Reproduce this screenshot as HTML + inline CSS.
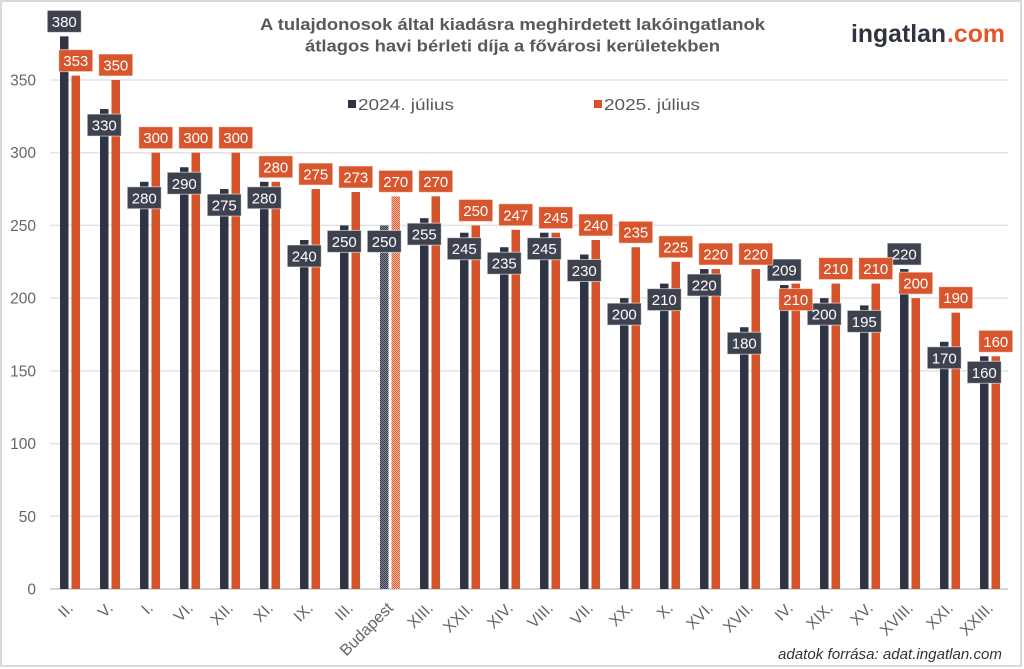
<!DOCTYPE html>
<html>
<head>
<meta charset="utf-8">
<style>
html,body{margin:0;padding:0;background:#fff;}
svg{display:block;}
text{font-family:"Liberation Sans",Arial,sans-serif;}
.yl{font-size:15.5px;fill:#666;text-anchor:end;}
.xl{font-size:16px;fill:#666;text-anchor:end;}
.lb{font-size:15px;fill:#fff;text-anchor:middle;}
.db{fill:#2e3443;}
.ob{fill:#d5532b;}
.dl{fill:#3d424e;stroke:rgba(255,255,255,0.55);stroke-width:1;}
.ol{fill:#d8562d;stroke:rgba(255,255,255,0.55);stroke-width:1;}
.g{stroke:#e3e3e3;stroke-width:1.5;}
</style>
</head>
<body>
<svg width="1024" height="669" viewBox="0 0 1024 669" xmlns="http://www.w3.org/2000/svg">
<defs>
<pattern id="pd" width="2" height="2" patternUnits="userSpaceOnUse"><rect width="2" height="2" fill="#8a8e96"/><rect width="1" height="1" fill="#2e3443"/><rect x="1" y="1" width="1" height="1" fill="#2e3443"/></pattern>
<pattern id="po" width="2" height="2" patternUnits="userSpaceOnUse"><rect width="2" height="2" fill="#f4b7a2"/><rect width="1" height="1" fill="#df5e36"/><rect x="1" y="1" width="1" height="1" fill="#df5e36"/></pattern>
</defs>
<rect x="1" y="1" width="1020" height="665" fill="#fff" stroke="#dadada" stroke-width="2"/>

<!-- title -->
<text x="260" y="30" font-size="17" font-weight="bold" fill="#595959" textLength="505" lengthAdjust="spacingAndGlyphs">A tulajdonosok által kiadásra meghirdetett lakóingatlanok</text>
<text x="305" y="51.5" font-size="17" font-weight="bold" fill="#595959" textLength="415" lengthAdjust="spacingAndGlyphs">átlagos havi bérleti díja a fővárosi kerületekben</text>

<!-- logo -->
<text x="851" y="42" font-size="25" font-weight="bold" fill="#2f3440" textLength="95" lengthAdjust="spacingAndGlyphs">ingatlan</text>
<text x="947" y="42" font-size="25" font-weight="bold" fill="#e2562b" textLength="58" lengthAdjust="spacingAndGlyphs">.com</text>

<!-- gridlines -->
<line class="g" x1="50" x2="1008" y1="80" y2="80"/>
<line class="g" x1="50" x2="1008" y1="152.71" y2="152.71"/>
<line class="g" x1="50" x2="1008" y1="225.43" y2="225.43"/>
<line class="g" x1="50" x2="1008" y1="298.14" y2="298.14"/>
<line class="g" x1="50" x2="1008" y1="370.86" y2="370.86"/>
<line class="g" x1="50" x2="1008" y1="443.57" y2="443.57"/>
<line class="g" x1="50" x2="1008" y1="516.29" y2="516.29"/>
<line x1="50" x2="1008" y1="589" y2="589" stroke="#d6d6d6" stroke-width="2"/>

<!-- y labels -->
<text class="yl" x="36" y="85.5">350</text>
<text class="yl" x="36" y="158.2">300</text>
<text class="yl" x="36" y="230.9">250</text>
<text class="yl" x="36" y="303.6">200</text>
<text class="yl" x="36" y="376.4">150</text>
<text class="yl" x="36" y="449.1">100</text>
<text class="yl" x="36" y="521.8">50</text>
<text class="yl" x="36" y="594.5">0</text>

<!-- legend -->
<rect x="348" y="100" width="8" height="8" fill="#2e3443"/>
<text x="358" y="110" font-size="16" fill="#595959" textLength="96" lengthAdjust="spacingAndGlyphs">2024. július</text>
<rect x="594" y="100" width="8" height="8" fill="#d5532b"/>
<text x="604" y="110" font-size="16" fill="#595959" textLength="96" lengthAdjust="spacingAndGlyphs">2025. július</text>

<!-- bars dark -->
<rect class="db" x="60" y="36.37" width="8.5" height="552.63"/>
<rect class="db" x="100" y="109.08" width="8.5" height="479.92"/>
<rect class="db" x="140" y="181.8" width="8.5" height="407.2"/>
<rect class="db" x="180" y="167.25" width="8.5" height="421.75"/>
<rect class="db" x="220" y="189.07" width="8.5" height="399.93"/>
<rect class="db" x="260" y="181.8" width="8.5" height="407.2"/>
<rect class="db" x="300" y="239.97" width="8.5" height="349.03"/>
<rect class="db" x="340" y="225.42" width="8.5" height="363.58"/>
<rect x="380" y="225.42" width="8.5" height="363.58" fill="url(#pd)"/>
<rect class="db" x="420" y="218.15" width="8.5" height="370.85"/>
<rect class="db" x="460" y="232.7" width="8.5" height="356.3"/>
<rect class="db" x="500" y="247.24" width="8.5" height="341.76"/>
<rect class="db" x="540" y="232.7" width="8.5" height="356.3"/>
<rect class="db" x="580" y="254.51" width="8.5" height="334.49"/>
<rect class="db" x="620" y="298.14" width="8.5" height="290.86"/>
<rect class="db" x="660" y="283.6" width="8.5" height="305.4"/>
<rect class="db" x="700" y="269.05" width="8.5" height="319.95"/>
<rect class="db" x="740" y="327.23" width="8.5" height="261.77"/>
<rect class="db" x="780" y="285.05" width="8.5" height="303.95"/>
<rect class="db" x="820" y="298.14" width="8.5" height="290.86"/>
<rect class="db" x="860" y="305.41" width="8.5" height="283.59"/>
<rect class="db" x="900" y="269.05" width="8.5" height="319.95"/>
<rect class="db" x="940" y="341.77" width="8.5" height="247.23"/>
<rect class="db" x="980" y="356.31" width="8.5" height="232.69"/>

<!-- bars orange -->
<rect class="ob" x="71.5" y="75.63" width="8.5" height="513.37"/>
<rect class="ob" x="111.5" y="79.99" width="8.5" height="509.01"/>
<rect class="ob" x="151.5" y="152.71" width="8.5" height="436.29"/>
<rect class="ob" x="191.5" y="152.71" width="8.5" height="436.29"/>
<rect class="ob" x="231.5" y="152.71" width="8.5" height="436.29"/>
<rect class="ob" x="271.5" y="181.8" width="8.5" height="407.2"/>
<rect class="ob" x="311.5" y="189.07" width="8.5" height="399.93"/>
<rect class="ob" x="351.5" y="191.98" width="8.5" height="397.02"/>
<rect x="391.5" y="196.34" width="8.5" height="392.66" fill="url(#po)"/>
<rect class="ob" x="431.5" y="196.34" width="8.5" height="392.66"/>
<rect class="ob" x="471.5" y="225.42" width="8.5" height="363.58"/>
<rect class="ob" x="511.5" y="229.79" width="8.5" height="359.21"/>
<rect class="ob" x="551.5" y="232.7" width="8.5" height="356.3"/>
<rect class="ob" x="591.5" y="239.97" width="8.5" height="349.03"/>
<rect class="ob" x="631.5" y="247.24" width="8.5" height="341.76"/>
<rect class="ob" x="671.5" y="261.78" width="8.5" height="327.22"/>
<rect class="ob" x="711.5" y="269.05" width="8.5" height="319.95"/>
<rect class="ob" x="751.5" y="269.05" width="8.5" height="319.95"/>
<rect class="ob" x="791.5" y="283.6" width="8.5" height="305.4"/>
<rect class="ob" x="831.5" y="283.6" width="8.5" height="305.4"/>
<rect class="ob" x="871.5" y="283.6" width="8.5" height="305.4"/>
<rect class="ob" x="911.5" y="298.14" width="8.5" height="290.86"/>
<rect class="ob" x="951.5" y="312.68" width="8.5" height="276.32"/>
<rect class="ob" x="991.5" y="356.31" width="8.5" height="232.69"/>

<!-- dark labels -->
<rect class="dl" x="47.25" y="10.37" width="34" height="22"/><text class="lb" x="64.25" y="26.9">380</text>
<rect class="dl" x="87.25" y="114.08" width="34" height="22"/><text class="lb" x="104.25" y="130.6">330</text>
<rect class="dl" x="127.25" y="186.8" width="34" height="22"/><text class="lb" x="144.25" y="203.3">280</text>
<rect class="dl" x="167.25" y="172.25" width="34" height="22"/><text class="lb" x="184.25" y="188.75">290</text>
<rect class="dl" x="207.25" y="194.07" width="34" height="22"/><text class="lb" x="224.25" y="210.6">275</text>
<rect class="dl" x="247.25" y="186.8" width="34" height="22"/><text class="lb" x="264.25" y="203.3">280</text>
<rect class="dl" x="287.25" y="244.97" width="34" height="22"/><text class="lb" x="304.25" y="261.5">240</text>
<rect class="dl" x="327.25" y="230.42" width="34" height="22"/><text class="lb" x="344.25" y="246.9">250</text>
<rect class="dl" x="367.25" y="230.42" width="34" height="22"/><text class="lb" x="384.25" y="246.9">250</text>
<rect class="dl" x="407.25" y="223.15" width="34" height="22"/><text class="lb" x="424.25" y="239.65">255</text>
<rect class="dl" x="447.25" y="237.7" width="34" height="22"/><text class="lb" x="464.25" y="254.2">245</text>
<rect class="dl" x="487.25" y="252.24" width="34" height="22"/><text class="lb" x="504.25" y="268.7">235</text>
<rect class="dl" x="527.25" y="237.7" width="34" height="22"/><text class="lb" x="544.25" y="254.2">245</text>
<rect class="dl" x="567.25" y="259.51" width="34" height="22"/><text class="lb" x="584.25" y="276">230</text>
<rect class="dl" x="607.25" y="303.14" width="34" height="22"/><text class="lb" x="624.25" y="319.6">200</text>
<rect class="dl" x="647.25" y="288.6" width="34" height="22"/><text class="lb" x="664.25" y="305.1">210</text>
<rect class="dl" x="687.25" y="274.05" width="34" height="22"/><text class="lb" x="704.25" y="290.55">220</text>
<rect class="dl" x="727.25" y="332.23" width="34" height="22"/><text class="lb" x="744.25" y="348.7">180</text>
<rect class="dl" x="767.25" y="259.05" width="34" height="22"/><text class="lb" x="784.25" y="275.55">209</text>
<rect class="dl" x="807.25" y="303.14" width="34" height="22"/><text class="lb" x="824.25" y="319.6">200</text>
<rect class="dl" x="847.25" y="310.41" width="34" height="22"/><text class="lb" x="864.25" y="326.9">195</text>
<rect class="dl" x="887.25" y="243.05" width="34" height="22"/><text class="lb" x="904.25" y="259.55">220</text>
<rect class="dl" x="927.25" y="346.77" width="34" height="22"/><text class="lb" x="944.25" y="363.3">170</text>
<rect class="dl" x="967.25" y="361.31" width="34" height="22"/><text class="lb" x="984.25" y="377.8">160</text>

<!-- orange labels -->
<rect class="ol" x="58.75" y="49.63" width="34" height="22"/><text class="lb" x="75.75" y="66.1">353</text>
<rect class="ol" x="98.75" y="53.99" width="34" height="22"/><text class="lb" x="115.75" y="70.5">350</text>
<rect class="ol" x="138.75" y="126.71" width="34" height="22"/><text class="lb" x="155.75" y="143.2">300</text>
<rect class="ol" x="178.75" y="126.71" width="34" height="22"/><text class="lb" x="195.75" y="143.2">300</text>
<rect class="ol" x="218.75" y="126.71" width="34" height="22"/><text class="lb" x="235.75" y="143.2">300</text>
<rect class="ol" x="258.75" y="155.8" width="34" height="22"/><text class="lb" x="275.75" y="172.3">280</text>
<rect class="ol" x="298.75" y="163.07" width="34" height="22"/><text class="lb" x="315.75" y="179.6">275</text>
<rect class="ol" x="338.75" y="165.98" width="34" height="22"/><text class="lb" x="355.75" y="182.5">273</text>
<rect class="ol" x="378.75" y="170.34" width="34" height="22"/><text class="lb" x="395.75" y="186.8">270</text>
<rect class="ol" x="418.75" y="170.34" width="34" height="22"/><text class="lb" x="435.75" y="186.8">270</text>
<rect class="ol" x="458.75" y="199.42" width="34" height="22"/><text class="lb" x="475.75" y="215.9">250</text>
<rect class="ol" x="498.75" y="203.79" width="34" height="22"/><text class="lb" x="515.75" y="220.3">247</text>
<rect class="ol" x="538.75" y="206.7" width="34" height="22"/><text class="lb" x="555.75" y="223.2">245</text>
<rect class="ol" x="578.75" y="213.97" width="34" height="22"/><text class="lb" x="595.75" y="230.5">240</text>
<rect class="ol" x="618.75" y="221.24" width="34" height="22"/><text class="lb" x="635.75" y="237.7">235</text>
<rect class="ol" x="658.75" y="235.78" width="34" height="22"/><text class="lb" x="675.75" y="252.3">225</text>
<rect class="ol" x="698.75" y="243.05" width="34" height="22"/><text class="lb" x="715.75" y="259.55">220</text>
<rect class="ol" x="738.75" y="243.05" width="34" height="22"/><text class="lb" x="755.75" y="259.55">220</text>
<rect class="ol" x="778.75" y="288.6" width="34" height="22"/><text class="lb" x="795.75" y="305.1">210</text>
<rect class="ol" x="818.75" y="257.6" width="34" height="22"/><text class="lb" x="835.75" y="274.1">210</text>
<rect class="ol" x="858.75" y="257.6" width="34" height="22"/><text class="lb" x="875.75" y="274.1">210</text>
<rect class="ol" x="898.75" y="272.14" width="34" height="22"/><text class="lb" x="915.75" y="288.6">200</text>
<rect class="ol" x="938.75" y="286.68" width="34" height="22"/><text class="lb" x="955.75" y="303.2">190</text>
<rect class="ol" x="978.75" y="330.31" width="34" height="22"/><text class="lb" x="995.75" y="346.8">160</text>

<!-- x labels -->
<text class="xl" transform="translate(74,609) rotate(-45)">II.</text>
<text class="xl" transform="translate(114,609) rotate(-45)">V.</text>
<text class="xl" transform="translate(154,609) rotate(-45)">I.</text>
<text class="xl" transform="translate(194,609) rotate(-45)">VI.</text>
<text class="xl" transform="translate(234,609) rotate(-45)">XII.</text>
<text class="xl" transform="translate(274,609) rotate(-45)">XI.</text>
<text class="xl" transform="translate(314,609) rotate(-45)">IX.</text>
<text class="xl" transform="translate(354,609) rotate(-45)">III.</text>
<text class="xl" transform="translate(394,609) rotate(-45)">Budapest</text>
<text class="xl" transform="translate(434,609) rotate(-45)">XIII.</text>
<text class="xl" transform="translate(474,609) rotate(-45)">XXII.</text>
<text class="xl" transform="translate(514,609) rotate(-45)">XIV.</text>
<text class="xl" transform="translate(554,609) rotate(-45)">VIII.</text>
<text class="xl" transform="translate(594,609) rotate(-45)">VII.</text>
<text class="xl" transform="translate(634,609) rotate(-45)">XX.</text>
<text class="xl" transform="translate(674,609) rotate(-45)">X.</text>
<text class="xl" transform="translate(714,609) rotate(-45)">XVI.</text>
<text class="xl" transform="translate(754,609) rotate(-45)">XVII.</text>
<text class="xl" transform="translate(794,609) rotate(-45)">IV.</text>
<text class="xl" transform="translate(834,609) rotate(-45)">XIX.</text>
<text class="xl" transform="translate(874,609) rotate(-45)">XV.</text>
<text class="xl" transform="translate(914,609) rotate(-45)">XVIII.</text>
<text class="xl" transform="translate(954,609) rotate(-45)">XXI.</text>
<text class="xl" transform="translate(994,609) rotate(-45)">XXIII.</text>

<!-- source -->
<text x="778" y="659" font-size="14.5" font-style="italic" fill="#333" textLength="224" lengthAdjust="spacingAndGlyphs">adatok forrása: adat.ingatlan.com</text>
</svg>
</body>
</html>
